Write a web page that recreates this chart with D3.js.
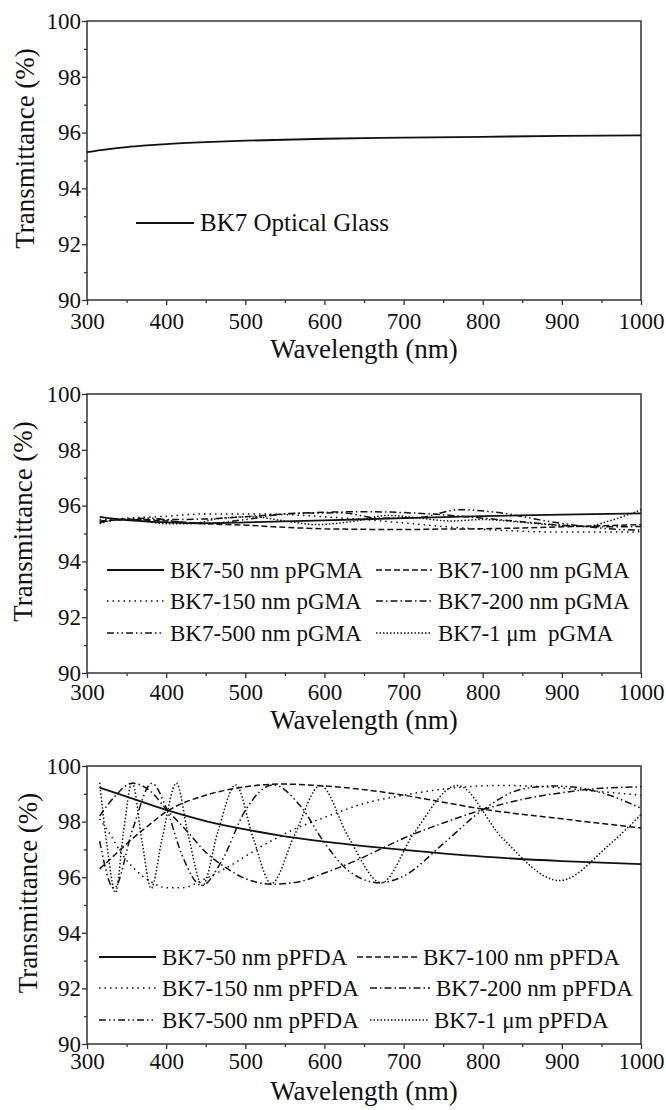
<!DOCTYPE html>
<html>
<head>
<meta charset="utf-8">
<script src="https://cdn.jsdelivr.net/npm/d3@7"></script>
</head>
<body style="margin:0;background:#fff">
<svg id="fig" width="666" height="1110"></svg>
<script>
// ticks
const wlTicks = [300, 400, 500, 600, 700, 800, 900, 1000]
const wlMinor = [350, 450, 550, 650, 750, 850, 950]
const tTicks = [90, 92, 94, 96, 98, 100]
const tMinor = [91, 93, 95, 97, 99]

// panel 1: bare glass  [wavelength nm, transmittance %]
const glass = [[300, 95.3], [325, 95.4], [350, 95.48], [375, 95.54], [400, 95.59], [450, 95.66],
  [500, 95.71], [600, 95.78], [700, 95.82], [800, 95.85], [900, 95.88], [1000, 95.9]]
const glassLabel = 'BK7 Optical Glass'

// panel 2: pGMA coatings
const pgma50 = [[316, 95.6], [350, 95.48], [400, 95.4], [450, 95.37], [500, 95.4], [600, 95.47],
  [700, 95.55], [800, 95.62], [900, 95.68], [1000, 95.72]]
const pgma100 = [[316, 95.42], [350, 95.5], [400, 95.45], [450, 95.35], [500, 95.3], [550, 95.22],
  [600, 95.17], [650, 95.15], [700, 95.14], [750, 95.16], [800, 95.17], [850, 95.2], [900, 95.24],
  [950, 95.28], [1000, 95.32]]
const pgma150 = [[316, 95.5], [350, 95.55], [400, 95.62], [450, 95.7], [500, 95.7], [550, 95.68],
  [600, 95.6], [650, 95.5], [700, 95.38], [750, 95.25], [800, 95.15], [850, 95.08], [900, 95.05],
  [950, 95.05], [1000, 95.06]]
const pgma200 = [[316, 95.45], [350, 95.5], [400, 95.5], [450, 95.52], [500, 95.6], [550, 95.7],
  [600, 95.76], [650, 95.78], [700, 95.75], [750, 95.67], [800, 95.55], [850, 95.42], [900, 95.3],
  [950, 95.24], [1000, 95.25]]
const pgma500 = [[316, 95.4], [350, 95.52], [380, 95.55], [420, 95.4], [450, 95.35], [500, 95.5],
  [560, 95.72], [620, 95.74], [670, 95.55], [720, 95.58], [770, 95.85], [820, 95.75], [880, 95.45],
  [930, 95.25], [970, 95.15], [1000, 95.12]]
const pgma1000 = [[316, 95.35], [340, 95.5], [370, 95.45], [400, 95.35], [430, 95.35], [470, 95.55],
  [510, 95.6], [550, 95.45], [590, 95.32], [640, 95.45], [680, 95.65], [720, 95.55], [760, 95.45],
  [800, 95.5], [850, 95.4], [900, 95.28], [930, 95.25], [960, 95.45], [1000, 95.85]]
const pgmaLabels = ['BK7-50 nm pPGMA', 'BK7-100 nm pGMA', 'BK7-150 nm pGMA', 'BK7-200 nm pGMA',
  'BK7-500 nm pGMA', 'BK7-1 \u03bcm\u00a0 pGMA']

// panel 3: pPFDA coatings
const pfda50 = [[316, 99.22], [350, 98.9], [400, 98.42], [450, 98.02], [500, 97.72], [550, 97.47],
  [600, 97.28], [650, 97.12], [700, 96.98], [800, 96.74], [900, 96.58], [1000, 96.47]]
const pfda100 = [[316, 96.3], [335, 96.8], [350, 97.2], [375, 97.8], [400, 98.35], [450, 98.95],
  [500, 99.25], [545, 99.35], [600, 99.28], [650, 99.15], [700, 98.95], [750, 98.7], [800, 98.45],
  [900, 98.1], [1000, 97.77]]
const pfda150 = [[316, 98.1], [330, 97.5], [345, 96.8], [360, 96.3], [380, 95.85], [400, 95.62],
  [420, 95.62], [450, 95.95], [480, 96.4], [520, 97.1], [560, 97.7], [600, 98.15], [650, 98.65],
  [700, 98.95], [760, 99.2], [820, 99.3], [880, 99.25], [940, 99.1], [1000, 98.95]]
const pfda200 = [[316, 98.2], [335, 98.9], [357, 99.38], [380, 99.1], [400, 98.45], [425, 97.7],
  [450, 96.9], [475, 96.35], [500, 95.95], [535, 95.75], [570, 95.85], [600, 96.15], [640, 96.6],
  [670, 97.0], [700, 97.4], [750, 97.95], [800, 98.43], [850, 98.8], [900, 99.04], [950, 99.2],
  [1000, 99.25]]
const pfda500 = [[316, 97.3], [334, 95.6], [358, 97.75], [382, 99.38], [400, 98.5], [420, 96.8],
  [445, 95.7], [470, 96.57], [500, 98.4], [535, 99.32], [570, 98.55], [600, 97.24], [630, 96.24],
  [670, 95.8], [700, 96.04], [750, 97.2], [800, 98.42], [850, 99.17], [890, 99.28], [950, 99.04],
  [1000, 98.48]]
const pfda1000 = [[316, 99.4], [325, 97.2], [336, 95.45], [346, 97.6], [357, 99.42], [370, 97.2],
  [381, 95.6], [395, 97.4], [413, 99.38], [428, 97.5], [446, 95.7], [465, 97.6], [488, 99.32],
  [510, 97.4], [533, 95.77], [562, 97.5], [595, 99.3], [630, 97.46], [672, 95.8], [713, 97.58],
  [768, 99.3], [825, 97.4], [897, 95.88], [960, 97.17], [1000, 98.25]]
const pfdaLabels = ['BK7-50 nm pPFDA', 'BK7-100 nm pPFDA', 'BK7-150 nm pPFDA', 'BK7-200 nm pPFDA',
  'BK7-500 nm pPFDA', 'BK7-1 \u03bcm pPFDA']

// line styles in legend order: solid, dash, dot, dash-dot, dash-dot-dot, short dot
const dashes = ['none', '6,3', '1.5,4', '7,3,1.5,3', '7,3,1.5,3,1.5,3', '1.5,2']
const FONT = '"Liberation Serif", "DejaVu Serif", serif'

const svg = d3.select('#fig')
    .style('display', 'block')
    .attr('font-family', FONT)
const left = 87
const right = 641

function drawPanel (p) {
  const x = d3.scaleLinear().domain([300, 1000]).range([left, right])
  const y = d3.scaleLinear().domain([90, 100]).range([p.bottom, p.top])
  const g = svg.append('g')

  // minor ticks
  g.append('g')
      .attr('class', 'axis')
      .attr('transform', `translate(0,${p.bottom})`)
      .call(d3.axisBottom(x).tickValues(wlMinor).tickSize(3).tickFormat(''))
  g.append('g')
      .attr('class', 'axis')
      .attr('transform', `translate(${left},0)`)
      .call(d3.axisLeft(y).tickValues(tMinor).tickSize(3).tickFormat(''))

  // major ticks
  g.append('g')
      .attr('class', 'axis')
      .attr('transform', `translate(0,${p.bottom})`)
      .call(d3.axisBottom(x).tickValues(wlTicks).tickSize(5).tickSizeOuter(0)
        .tickPadding(p.xPad).tickFormat(d3.format('d')))
  g.append('g')
      .attr('class', 'axis')
      .attr('transform', `translate(${left},0)`)
      .call(d3.axisLeft(y).tickValues(tTicks).tickSize(5).tickSizeOuter(0)
        .tickPadding(1).tickFormat(d3.format('d')))

  g.selectAll('.axis path').remove()
  g.selectAll('.axis')
      .attr('font-family', FONT)
      .attr('font-size', 23)
  g.selectAll('.axis line')
      .attr('stroke', '#333')
      .attr('stroke-width', 1.3)
  g.selectAll('.axis text').attr('fill', '#111')

  // frame
  g.append('rect')
      .attr('x', left)
      .attr('y', p.top)
      .attr('width', right - left)
      .attr('height', p.bottom - p.top)
      .attr('fill', 'none')
      .attr('stroke', '#333')
      .attr('stroke-width', 1.5)

  const line = d3.line()
    .curve(d3.curveMonotoneX)
    .x(d => x(d[0]))
    .y(d => y(d[1]))

  p.series.forEach((s, i) => {
    g.append('path')
        .attr('d', line(s))
        .attr('fill', 'none')
        .attr('stroke', '#111')
        .attr('stroke-width', i === 0 ? 1.8 : 1.5)
        .attr('stroke-dasharray', dashes[i])
  })

  // legend
  p.labels.forEach((lab, i) => {
    const it = p.legend[i]
    g.append('line')
        .attr('x1', it[0]).attr('x2', it[1])
        .attr('y1', it[2]).attr('y2', it[2])
        .attr('stroke', '#111')
        .attr('stroke-width', i === 0 ? 1.8 : 1.5)
        .attr('stroke-dasharray', dashes[i])
    g.append('text')
        .attr('x', it[1] + 6)
        .attr('y', it[2] + 8)
        .attr('fill', '#111')
        .attr('font-family', FONT)
        .attr('font-size', p.legSize)
        .style('white-space', 'pre')
        .text(lab)
  })

  // axis titles
  g.append('text')
      .attr('text-anchor', 'middle')
      .attr('font-family', FONT)
      .attr('font-size', 27)
      .attr('fill', '#111')
      .attr('x', (left + right) / 2)
      .attr('y', p.xTitle)
      .text('Wavelength (nm)')
  g.append('text')
      .attr('text-anchor', 'middle')
      .attr('font-family', FONT)
      .attr('font-size', 27)
      .attr('fill', '#111')
      .attr('transform', `translate(${p.yTitleX},${(p.top + p.bottom) / 2 - 12}) rotate(-90)`)
      .text('Transmittance (%)')
}

drawPanel({
  top: 21, bottom: 300, xPad: 8, xTitle: 358, yTitleX: 34, legSize: 25,
  series: [glass],
  labels: [glassLabel],
  legend: [[136, 194, 223]]
})

drawPanel({
  top: 394, bottom: 673, xPad: 6, xTitle: 729, yTitleX: 32, legSize: 23,
  series: [pgma50, pgma100, pgma150, pgma200, pgma500, pgma1000],
  labels: pgmaLabels,
  legend: [[107, 164, 570], [376, 432, 570], [107, 164, 601], [376, 432, 601], [107, 164, 633], [376, 432, 633]]
})

drawPanel({
  top: 766, bottom: 1044, xPad: 4, xTitle: 1100, yTitleX: 37, legSize: 23,
  series: [pfda50, pfda100, pfda150, pfda200, pfda500, pfda1000],
  labels: pfdaLabels,
  legend: [[99, 156, 957], [357, 417, 957], [99, 156, 988], [370, 430, 988], [99, 156, 1020], [370, 428, 1020]]
})
</script>
</body>
</html>
